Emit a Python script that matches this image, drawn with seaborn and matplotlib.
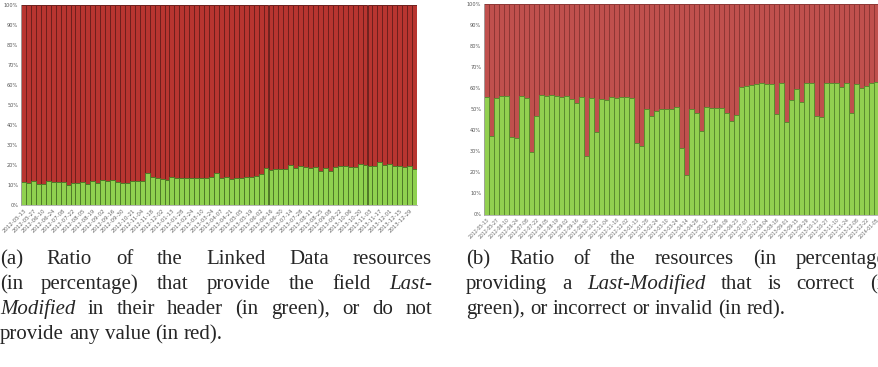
import numpy as np
import pandas as pd
import matplotlib
matplotlib.use("Agg")
import matplotlib.pyplot as plt
import seaborn as sns

# ---------------- data ----------------
left_labels = ["2012-05-13", "2012-05-27", "2012-06-10", "2012-06-24", "2012-07-08",
               "2012-07-22", "2012-08-05", "2012-08-19", "2012-09-02", "2012-09-16",
               "2012-09-30", "2012-10-21", "2012-11-04", "2012-11-18", "2012-12-02",
               "2013-01-13", "2013-01-28", "2013-02-24", "2013-03-10", "2013-03-24",
               "2013-04-07", "2013-04-21", "2013-05-05", "2013-05-19", "2013-06-02",
               "2013-06-16", "2013-06-30", "2013-07-14", "2013-07-28", "2013-08-11",
               "2013-08-25", "2013-09-08", "2013-09-22", "2013-10-06", "2013-10-20",
               "2013-11-03", "2013-11-17", "2013-12-01", "2013-12-15", "2013-12-29"]

left_green = [11.6, 11.1, 12.0, 10.5, 10.5, 12.0, 11.6, 11.3, 11.6, 10.0,
              11.1, 11.1, 11.6, 10.5, 11.8, 11.1, 12.3, 11.8, 12.3, 11.5,
              11.2, 11.0, 11.9, 11.9, 11.8, 15.8, 14.0, 13.5, 13.2, 12.7,
              13.8, 13.4, 13.4, 13.4, 13.4, 13.4, 13.4, 13.6, 14.0, 15.8,
              13.5, 14.2, 13.2, 13.4, 13.5, 14.2, 14.2, 14.5, 15.5, 18.3,
              17.5, 18.0, 18.2, 18.0, 20.0, 18.3, 19.7, 19.2, 18.3, 18.8,
              17.2, 18.3, 17.2, 19.2, 19.5, 19.7, 19.2, 18.8, 20.5, 20.0,
              19.5, 19.7, 21.7, 20.0, 20.5, 19.5, 19.7, 18.8, 19.5, 17.8]

right_labels = ["2012-05-13", "2012-05-27", "2012-06-10", "2012-06-24", "2012-07-08",
                "2012-07-22", "2012-08-05", "2012-08-19", "2012-09-02", "2012-09-16",
                "2012-09-30", "2012-10-21", "2012-11-04", "2012-11-18", "2012-12-02",
                "2013-01-13", "2013-01-28", "2013-02-24", "2013-03-10", "2013-03-24",
                "2013-04-14", "2013-04-28", "2013-05-12", "2013-05-26", "2013-06-09",
                "2013-06-23", "2013-07-07", "2013-07-21", "2013-08-04", "2013-08-18",
                "2013-09-01", "2013-09-15", "2013-09-29", "2013-10-13", "2013-10-27",
                "2013-11-10", "2013-11-24", "2013-12-08", "2013-12-22", "2014-01-05"]

right_green = [56.0, 37.3, 55.5, 56.2, 56.2, 36.7, 36.2, 56.5, 55.2, 29.7,
               46.8, 56.6, 56.2, 56.8, 56.2, 56.0, 56.2, 55.0, 53.2, 55.8,
               27.8, 55.5, 39.0, 55.0, 54.5, 55.8, 55.5, 55.8, 55.8, 55.2,
               34.1, 32.5, 50.0, 47.0, 49.0, 50.0, 50.0, 50.0, 51.0, 31.4,
               18.8, 50.0, 48.0, 39.8, 51.0, 50.5, 50.5, 50.5, 48.0, 44.5,
               47.3, 60.7, 61.2, 61.5, 61.8, 62.3, 61.8, 61.8, 47.7, 62.3,
               44.1, 54.4, 59.5, 53.6, 62.3, 62.3, 46.8, 46.2, 62.3, 62.3,
               62.3, 60.7, 62.3, 48.4, 61.8, 60.0, 61.2, 62.5, 63.0, 66.3]

caption_a = [
    [("(a)", "normal"), ("Ratio", "normal"), ("of", "normal"), ("the", "normal"),
     ("Linked", "normal"), ("Data", "normal"), ("resources", "normal")],
    [("(in", "normal"), ("percentage)", "normal"), ("that", "normal"), ("provide", "normal"),
     ("the", "normal"), ("field", "normal"), ("Last-", "italic")],
    [("Modified", "italic"), ("in", "normal"), ("their", "normal"), ("header", "normal"),
     ("(in", "normal"), ("green),", "normal"), ("or", "normal"), ("do", "normal"), ("not", "normal")],
    [("provide", "normal"), ("any", "normal"), ("value", "normal"), ("(in", "normal"), ("red).", "normal")],
]
caption_b = [
    [("(b)", "normal"), ("Ratio", "normal"), ("of", "normal"), ("the", "normal"),
     ("resources", "normal"), ("(in", "normal"), ("percentage)", "normal")],
    [("providing", "normal"), ("a", "normal"), ("Last-Modified", "italic"), ("that", "normal"),
     ("is", "normal"), ("correct", "normal"), ("(in", "normal")],
    [("green),", "normal"), ("or", "normal"), ("incorrect", "normal"), ("or", "normal"),
     ("invalid", "normal"), ("(in", "normal"), ("red).", "normal")],
]

# ---------------- figure ----------------
sns.set_theme(style="white")
plt.rcParams['font.family'] = ['DejaVu Sans']
W, H = 879, 367
fig = plt.figure(figsize=(W / 100, H / 100), dpi=100)


def px_axes(x0, x1, ytop, ybot):
    return fig.add_axes([x0 / W, 1 - ybot / H, (x1 - x0) / W, (ybot - ytop) / H])


def draw_chart(ax, green, labels, red_c, red_e, green_c, green_e, lab_fs):
    n = len(green)
    df = pd.DataFrame({"pos": np.arange(n), "green": green, "total": [100.0] * n})
    sns.barplot(data=df, x="pos", y="total", color=red_c, saturation=1, width=1.0,
                edgecolor=red_e, linewidth=0.7, ax=ax)
    sns.barplot(data=df, x="pos", y="green", color=green_c, saturation=1, width=1.0,
                edgecolor=green_e, linewidth=0.7, ax=ax)
    ax.set_xlim(-0.5, n - 0.5)
    ax.set_ylim(0, 100)
    ax.set_xlabel("")
    ax.set_ylabel("")
    ax.set_yticks(np.arange(0, 101, 10))
    ax.set_yticklabels([f"{v}%" for v in range(0, 101, 10)], fontsize=3.6, color="#555555")
    ax.set_xticks(np.arange(0, 2 * len(labels), 2))
    ax.set_xticklabels(labels, rotation=45, ha="right", rotation_mode="anchor",
                       fontsize=lab_fs, color="#666666")
    ax.tick_params(axis="both", length=0, pad=2)
    for s in ["top", "right"]:
        ax.spines[s].set_visible(False)
    for s in ["left", "bottom"]:
        ax.spines[s].set_color("#aaaaaa")
        ax.spines[s].set_linewidth(0.6)


ax1 = px_axes(21, 417, 4.7, 205)
draw_chart(ax1, left_green, left_labels, "#b83530", "#6e1f1c", "#8fd14f", "#4f7a28", 3.9)

ax2 = px_axes(484, 884, 4, 214.5)
draw_chart(ax2, right_green, right_labels, "#c0504d", "#8e3634", "#92d050", "#5b8a30", 3.3)

# ---------------- captions ----------------
renderer = fig.canvas.get_renderer()
FS = 15
FAM = "Liberation Serif"


def draw_caption(lines, x0, x1, y0, dy):
    sp = fig.text(0, 0, "a b", fontsize=FS, family=FAM)
    ab = fig.text(0, 0, "ab", fontsize=FS, family=FAM)
    sw = sp.get_window_extent(renderer).width - ab.get_window_extent(renderer).width
    sp.remove()
    ab.remove()
    for i, words in enumerate(lines):
        y = y0 + i * dy
        texts = []
        widths = []
        for w, st in words:
            t = fig.text(0, 1 - y / H, w, fontsize=FS, family=FAM, style=st,
                         va="baseline", ha="left")
            texts.append(t)
            widths.append(t.get_window_extent(renderer).width)
        last = (i == len(lines) - 1)
        if last or len(words) == 1:
            gap = sw
        else:
            gap = (x1 - x0 - sum(widths)) / (len(words) - 1)
        x = x0
        for t, w in zip(texts, widths):
            t.set_x(x / W)
            x += w + gap


draw_caption(caption_a, 0, 432, 264, 25)
draw_caption(caption_b, 466, 893, 264, 25)

fig.savefig("out.png", dpi=100)
